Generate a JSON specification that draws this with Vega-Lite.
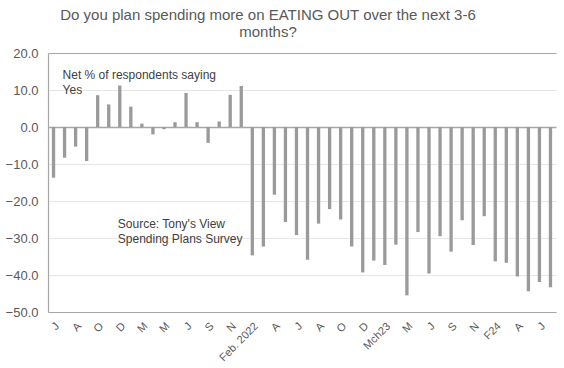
{
  "$schema": "https://vega.github.io/schema/vega-lite/v6.json",
  "width": 508,
  "height": 259,
  "padding": {"left": 5, "top": 8, "right": 5, "bottom": 5},
  "background": "white",
  "config": {
    "font": "Liberation Sans",
    "view": {"stroke": null},
    "axisY": {
      "title": null,
      "values": [-50, -40, -30, -20, -10, 0, 10, 20],
      "format": ".1f",
      "ticks": false,
      "labelPadding": 10,
      "labelFontSize": 13,
      "labelColor": "#595959",
      "labelFont": "Liberation Sans",
      "labelOverlap": false,
      "labelFlush": false,
      "domainColor": "#a6a6a6",
      "domainWidth": 1.2,
      "grid": true,
      "gridColor": {"condition": {"test": "datum.value === 0 || datum.value === 20", "value": "#a6a6a6"}, "value": "#e6e6e6"},
      "gridWidth": {"condition": {"test": "datum.value === 0", "value": 1.5}, "value": 1},
      "minExtent": 42.5,
      "maxExtent": 42.5
    },
    "axisX": {
      "title": null,
      "labelExpr": "['','J','','A','','O','','D','','M','','M','','J','','S','','N','','Feb. 2022','','A','','J','','A','','O','','D','','Mch23','','M','','J','','S','','N','','F24','','A','','J',''][datum.value]",
      "labelAngle": -45,
      "labelAlign": "right",
      "labelBaseline": "top",
      "labelPadding": 8,
      "labelFontSize": 11,
      "labelColor": "#595959",
      "labelFont": "Liberation Sans",
      "labelOverlap": false,
      "ticks": false,
      "domainColor": "#a6a6a6",
      "domainWidth": 1.2,
      "grid": false
    }
  },
  "title": {
    "text": ["Do you plan spending more on EATING OUT over the next 3-6", "months?"],
    "fontSize": 15,
    "fontWeight": "normal",
    "color": "#595959",
    "font": "Liberation Sans",
    "lineHeight": 17,
    "anchor": "middle",
    "dx": -34,
    "offset": 7
  },
  "data": {
    "values": [
      {"idx": 1, "net": -13.7}, {"idx": 2, "net": -8.3}, {"idx": 3, "net": -5.3},
      {"idx": 4, "net": -9.2}, {"idx": 5, "net": 8.6}, {"idx": 6, "net": 6.1},
      {"idx": 7, "net": 11.2}, {"idx": 8, "net": 5.5}, {"idx": 9, "net": 0.9},
      {"idx": 10, "net": -2.0}, {"idx": 11, "net": -0.6}, {"idx": 12, "net": 1.3},
      {"idx": 13, "net": 9.2}, {"idx": 14, "net": 1.3}, {"idx": 15, "net": -4.3},
      {"idx": 16, "net": 1.5}, {"idx": 17, "net": 8.7}, {"idx": 18, "net": 11.1},
      {"idx": 19, "net": -34.7}, {"idx": 20, "net": -32.3}, {"idx": 21, "net": -18.3},
      {"idx": 22, "net": -25.7}, {"idx": 23, "net": -29.2}, {"idx": 24, "net": -35.9},
      {"idx": 25, "net": -26.1}, {"idx": 26, "net": -22.2}, {"idx": 27, "net": -25.0},
      {"idx": 28, "net": -32.3}, {"idx": 29, "net": -39.3}, {"idx": 30, "net": -36.1},
      {"idx": 31, "net": -37.3}, {"idx": 32, "net": -31.8}, {"idx": 33, "net": -45.5},
      {"idx": 34, "net": -28.4}, {"idx": 35, "net": -39.6}, {"idx": 36, "net": -29.5},
      {"idx": 37, "net": -33.7}, {"idx": 38, "net": -25.2}, {"idx": 39, "net": -31.9},
      {"idx": 40, "net": -24.1}, {"idx": 41, "net": -36.3}, {"idx": 42, "net": -36.7},
      {"idx": 43, "net": -40.4}, {"idx": 44, "net": -44.4}, {"idx": 45, "net": -41.9},
      {"idx": 46, "net": -43.3}
    ]
  },
  "layer": [
    {
      "mark": {"type": "bar", "color": "#9a9a9a"},
      "encoding": {
        "x": {
          "field": "idx",
          "type": "ordinal",
          "scale": {"paddingInner": 0.7, "paddingOuter": 0.35}
        },
        "y": {
          "field": "net",
          "type": "quantitative",
          "scale": {"domain": [-50, 20], "nice": false, "zero": true}
        }
      }
    },
    {
      "data": {
        "values": [
          {"idx": 2, "pos": 15.5, "note": "Net % of respondents saying\nYes"},
          {"idx": 7, "pos": -24.8, "note": "Source: Tony's View\nSpending Plans Survey"}
        ]
      },
      "mark": {
        "type": "text",
        "align": "left",
        "baseline": "top",
        "lineBreak": "\n",
        "lineHeight": 15,
        "fontSize": 12,
        "color": "#404040",
        "font": "Liberation Sans",
        "dx": -2
      },
      "encoding": {
        "x": {"field": "idx", "type": "ordinal"},
        "y": {"field": "pos", "type": "quantitative"},
        "text": {"field": "note"}
      }
    }
  ]
}
